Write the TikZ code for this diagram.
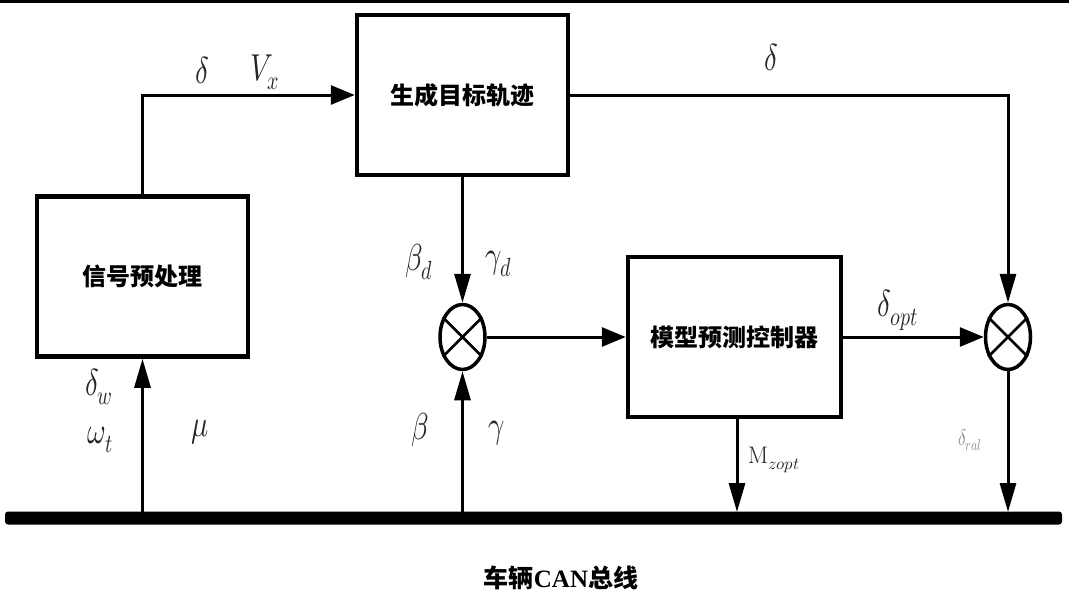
\documentclass[tikz,border=0pt]{standalone}
\usepackage{fontspec}
\usepackage{unicode-math}
\setmathfont{Latin Modern Math}
\newfontfamily\cjk{Noto Sans CJK SC}
\newfontfamily\tnr{Liberation Serif}
\usetikzlibrary{arrows.meta,shapes.geometric}
\newcommand\tallm[1]{\scalebox{0.95}[1.25]{$#1$}}
\tikzset{
  blk/.style={draw,line width=4.5pt,minimum width=211pt,minimum height=160pt,inner sep=0pt,
    font=\cjk\bfseries\fontsize{24}{28}\selectfont},
  sumnode/.style={draw,ellipse,line width=3.5pt,minimum width=45pt,minimum height=65pt,inner sep=0pt},
  crossline/.style={line width=2.8pt},
  hwire/.style={line width=3pt,-{Triangle[length=24pt,width=19pt]}},
  vwire/.style={line width=3pt,-{Triangle[length=29pt,width=16pt]}},
  lbl/.style={inner sep=0pt,text=black!85,font=\fontsize{30}{34}\selectfont},
  smalllbl/.style={inner sep=0pt,text=black!45,font=\fontsize{18}{20}\selectfont},
}
\begin{document}
\begin{tikzpicture}[x=1pt,y=-1pt]
\useasboundingbox (0,0) rectangle (1069,597);
\fill (0,0) rectangle (1069,3);
% blocks
\node[blk] (pre) at (142.5,276.5) {信号预处理};
\node[blk] (gen) at (462.5,95) {生成目标轨迹};
\node[blk,minimum width=213pt] (mpc) at (734.5,337) {模型预测控制器};
% summing junctions
\node[sumnode] (s1) at (462.5,337) {};
\node[sumnode] (s2) at (1008,337) {};
\draw[crossline] (s1.45) -- (s1.225) (s1.135) -- (s1.315);
\draw[crossline] (s2.45) -- (s2.225) (s2.135) -- (s2.315);
% bus
\node[fill,rounded corners=3pt,minimum width=1057pt,minimum height=13pt,inner sep=0pt] (bus) at (533.5,518) {};
\coordinate (p1) at (142.5,512);
\coordinate (p2) at (462.5,512);
\coordinate (p3) at (737,512);
\coordinate (p4) at (1008,512);
% connectors
\draw[hwire] (pre.north) |- (gen.west);
\draw[vwire] (gen.east) -| (s2.north);
\draw[vwire] (gen.south) -- (s1.north);
\draw[hwire] (s1.east) -- (mpc.west);
\draw[hwire] (mpc.east) -- (s2.west);
\draw[vwire] (s2.south) -- (p4);
\draw[vwire] (mpc.south -| p3) -- (p3);
\draw[vwire] (p1) -- (pre.south);
\draw[vwire] (p2) -- (s1.south);
% labels
\node[lbl] (l1) at (202,70) {\tallm{\delta}};
\node[lbl] (l2) at (265,72) {\tallm{V_x}};
\node[lbl] (l3) at (771,57) {\tallm{\delta}};
\node[lbl] (l4) at (419,262) {\tallm{\beta_d}};
\node[lbl] (l5) at (499,264) {\tallm{\gamma_d}};
\node[lbl] (l6) at (898,310) {\tallm{\delta_{opt}}};
\node[lbl] (l7) at (99,387) {\tallm{\delta_w}};
\node[lbl] (l8) at (100,440) {\tallm{\omega_t}};
\node[lbl] (l9) at (200,432) {\tallm{\mu}};
\node[lbl] (l10) at (420,430) {\tallm{\beta}};
\node[lbl] (l11) at (497,433) {\tallm{\gamma}};
\node[lbl,font=\fontsize{24}{28}\selectfont] (l12) at (774,460) {$\mathrm{M}_{zopt}$};
\node[smalllbl] (l13) at (970,440) {\tallm{\delta_{ral}}};
\node[inner sep=0pt,font=\cjk\bfseries\fontsize{25}{29}\selectfont] (title) at (561,578) {车辆{\tnr\bfseries CAN}总线};
\end{tikzpicture}
\end{document}
